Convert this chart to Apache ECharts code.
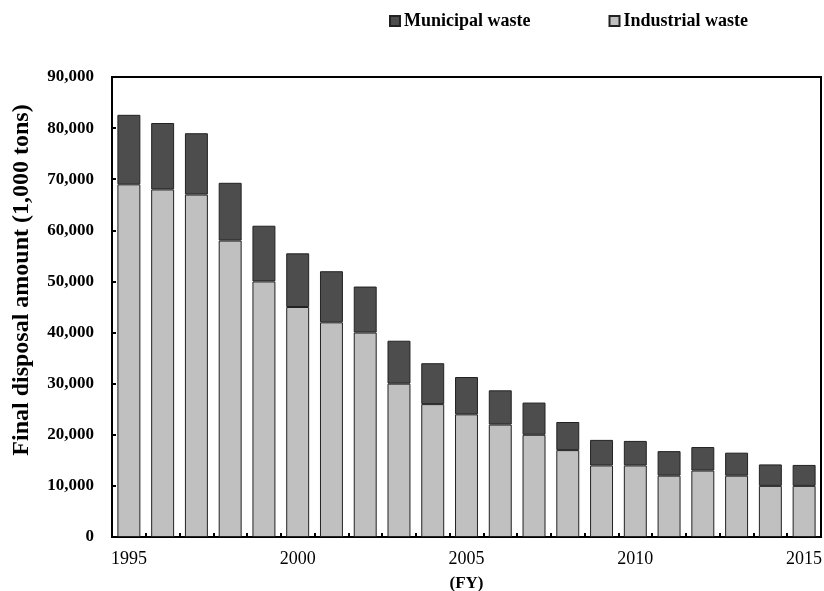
<!DOCTYPE html>
<html>
<head>
<meta charset="utf-8">
<script src="https://cdn.jsdelivr.net/npm/echarts@6/dist/echarts.min.js"></script>
<style>html,body{margin:0;padding:0;background:#fff;}#chart{width:824px;height:591px;}</style>
</head>
<body>
<div id="chart"></div>
<script>
var years = ['1995','1996','1997','1998','1999','2000','2001','2002','2003','2004','2005','2006','2007','2008','2009','2010','2011','2012','2013','2014','2015'];
var industrialWaste = [69000,68000,67000,58000,50000,45000,42000,40000,30000,26000,24000,22000,20000,17000,14000,14000,12000,13000,12000,10000,10000];
var municipalWaste = [13600,13000,12000,11300,10900,10500,10000,9000,8400,8000,7300,6700,6300,5500,5000,4800,4800,4600,4500,4200,4100];
var yTicks = {min: 0, max: 90000, interval: 10000};

var serif = '"Liberation Serif", "DejaVu Serif", serif';
var chart = echarts.init(document.getElementById('chart'));
chart.setOption({
  animation: false,
  backgroundColor: '#fff',
  legend: {
    data: ['Municipal waste', 'Industrial waste'],
    top: 7,
    left: 384,
    itemWidth: 10,
    itemHeight: 10,
    itemGap: 78,
    icon: 'rect',
    textStyle: {fontFamily: serif, fontWeight: 'bold', fontSize: 18, color: '#000', padding: [0,0,0,-1]}
  },
  grid: {
    left: 112, right: 3, top: 77, bottom: 54,
    containLabel: false,
    outerBoundsMode: 'none',
    show: true, borderColor: '#000', borderWidth: 2, backgroundColor: 'transparent'
  },
  xAxis: {
    type: 'category',
    data: years,
    name: '(FY)',
    nameLocation: 'middle',
    nameGap: 38,
    nameTextStyle: {fontFamily: serif, fontWeight: 'bold', fontSize: 17, color: '#000'},
    axisLine: {lineStyle: {color: '#000', width: 2}},
    axisTick: {show: true, inside: true, length: 4, interval: 0, alignWithLabel: false, lineStyle: {color: '#000', width: 2}},
    axisLabel: {interval: 4, fontFamily: serif, fontSize: 18, color: '#000', margin: 13},
    splitLine: {show: false}
  },
  yAxis: {
    type: 'value',
    min: yTicks.min, max: yTicks.max, interval: yTicks.interval,
    name: 'Final disposal amount (1,000 tons)',
    nameLocation: 'middle',
    nameGap: 78,
    nameTextStyle: {fontFamily: serif, fontWeight: 'bold', fontSize: 24, color: '#000', padding: [0,0,0,54]},
    axisLine: {show: true, lineStyle: {color: '#000', width: 2}},
    axisTick: {show: true, inside: true, length: 4, lineStyle: {color: '#000', width: 2}},
    axisLabel: {
      fontFamily: serif, fontSize: 17, fontWeight: 'bold', color: '#000', margin: 18,
      formatter: function (v) { return v.toLocaleString('en-US'); }
    },
    splitLine: {show: false}
  },
  series: [
    {
      name: 'Industrial waste',
      type: 'bar',
      stack: 'total',
      data: industrialWaste,
      barCategoryGap: '32%',
      itemStyle: {color: '#c0c0c0', borderColor: '#222', borderWidth: 1}
    },
    {
      name: 'Municipal waste',
      type: 'bar',
      stack: 'total',
      data: municipalWaste,
      barCategoryGap: '32%',
      itemStyle: {color: '#4d4d4d', borderColor: '#222', borderWidth: 1}
    }
  ]
});
</script>
</body>
</html>
